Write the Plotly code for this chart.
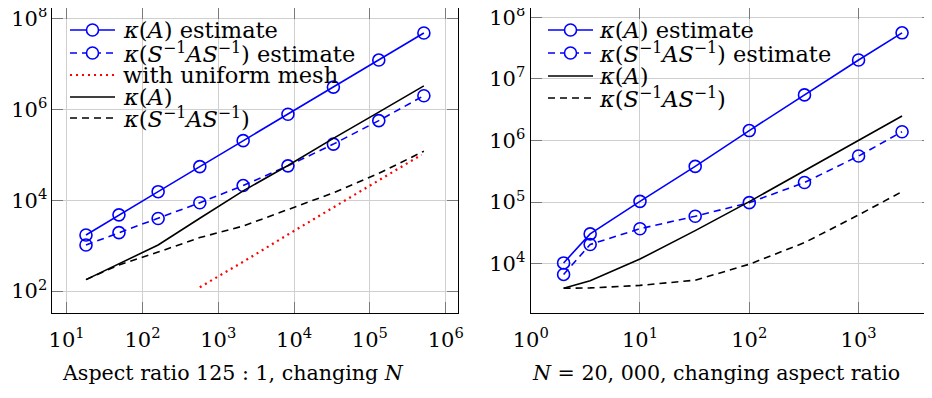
import plotly.graph_objects as go

# ---------------- data ----------------
# Left panel: aspect ratio 125:1, changing N
N_left = [18, 49, 161, 571, 2130, 8300, 33000, 131000, 515000]
kA_est_left = [1710, 4750, 15400, 55000, 205000, 780000, 3.1e6, 1.22e7, 4.8e7]
kS_est_left = [1030, 1930, 3950, 8800, 21000, 57000, 172000, 565000, 2.0e6]
kA_left = [178, 395, 1030, 4000, 16000, 58000, 230000, 870000, 3.3e6]
kS_left = [178, 375, 720, 1500, 2700, 6100, 14500, 39000, 120000]
N_uniform = [571, 2130, 8300, 33000, 131000, 480000]
k_uniform = [121, 440, 1750, 7000, 27500, 100000]

# Right panel: N = 20,000, changing aspect ratio
AR = [2, 3.5, 10, 32, 100, 320, 1000, 2500]
kA_est_right = [10300, 30500, 103000, 380000, 1.45e6, 5.5e6, 2.03e7, 5.6e7]
kS_est_right = [6700, 20500, 37000, 59000, 98000, 208000, 560000, 1.39e6]
kA_right = [4000, 5300, 11900, 34500, 102000, 325000, 1.0e6, 2.5e6]
kS_right = [4000, 4050, 4450, 5400, 9800, 22000, 62000, 148000]

xticks_left = [1e1, 1e2, 1e3, 1e4, 1e5, 1e6]
xticktext_left = ["10<sup>1</sup>", "10<sup>2</sup>", "10<sup>3</sup>",
                  "10<sup>4</sup>", "10<sup>5</sup>", "10<sup>6</sup>"]
yticks_left = [1e2, 1e4, 1e6, 1e8]
yticktext_left = ["10<sup>2</sup>", "10<sup>4</sup>", "10<sup>6</sup>", "10<sup>8</sup>"]
xticks_right = [1e0, 1e1, 1e2, 1e3]
xticktext_right = ["10<sup>0</sup>", "10<sup>1</sup>", "10<sup>2</sup>", "10<sup>3</sup>"]
yticks_right = [1e4, 1e5, 1e6, 1e7, 1e8]
yticktext_right = ["10<sup>4</sup>", "10<sup>5</sup>", "10<sup>6</sup>",
                   "10<sup>7</sup>", "10<sup>8</sup>"]

label_est_A = "<i>κ</i>(<i>A</i>) estimate"
label_est_S = "<i>κ</i>(<i>S</i><sup>−1</sup><i>AS</i><sup>−1</sup>) estimate"
label_uniform = "with uniform mesh"
label_A = "<i>κ</i>(<i>A</i>)"
label_S = "<i>κ</i>(<i>S</i><sup>−1</sup><i>AS</i><sup>−1</sup>)"
title_left = "Aspect ratio 125 : 1, changing <i>N</i>"
title_right = "<i>N</i> = 20, 000, changing aspect ratio"

# ---------------- styling ----------------
W, H = 932, 398
OFF = 8            # the page body adds an 8px margin around the figure
FONT = "DejaVu Serif"
FS_TICK = 21
FS_LEG = 22.5
FS_TITLE = 20.6
BLUE = "#0000ff"
RED = "#ff0000"
DASH = "7px,5px"
DOT = "2px,4px"

# axis boxes in page pixels (left, top, right, bottom) and log ranges
BOX_L = (51.7, 8.0, 458.3, 312.7)
BOX_R = (530.7, 8.0, 933.0, 312.7)
XR_L, YR_L = (0.803, 6.166), (1.522, 8.233)
XR_R, YR_R = (0.0, 3.681), (3.205, 8.151)


def px(x):
    return (x - OFF) / W


def py(y):
    return 1 - (y - OFF) / H


def clip01(v):
    return max(0.0, min(1.0, v))


fig = go.Figure()

circle = dict(symbol="circle-open", size=12, line=dict(width=1.6, color=BLUE))

# left panel traces
fig.add_trace(go.Scatter(x=N_left, y=kA_est_left, mode="lines+markers",
                         line=dict(color=BLUE, width=1.6), marker=circle,
                         xaxis="x", yaxis="y", showlegend=False))
fig.add_trace(go.Scatter(x=N_left, y=kS_est_left, mode="lines+markers",
                         line=dict(color=BLUE, width=1.6, dash=DASH), marker=circle,
                         xaxis="x", yaxis="y", showlegend=False))
fig.add_trace(go.Scatter(x=N_uniform, y=k_uniform, mode="lines",
                         line=dict(color=RED, width=2.2, dash=DOT),
                         xaxis="x", yaxis="y", showlegend=False))
fig.add_trace(go.Scatter(x=N_left, y=kA_left, mode="lines",
                         line=dict(color="black", width=1.6),
                         xaxis="x", yaxis="y", showlegend=False))
fig.add_trace(go.Scatter(x=N_left, y=kS_left, mode="lines",
                         line=dict(color="black", width=1.6, dash=DASH),
                         xaxis="x", yaxis="y", showlegend=False))

# right panel traces
fig.add_trace(go.Scatter(x=AR, y=kA_est_right, mode="lines+markers",
                         line=dict(color=BLUE, width=1.6), marker=circle,
                         xaxis="x2", yaxis="y2", showlegend=False))
fig.add_trace(go.Scatter(x=AR, y=kS_est_right, mode="lines+markers",
                         line=dict(color=BLUE, width=1.6, dash=DASH), marker=circle,
                         xaxis="x2", yaxis="y2", showlegend=False))
fig.add_trace(go.Scatter(x=AR, y=kA_right, mode="lines",
                         line=dict(color="black", width=1.6),
                         xaxis="x2", yaxis="y2", showlegend=False))
fig.add_trace(go.Scatter(x=AR, y=kS_right, mode="lines",
                         line=dict(color="black", width=1.6, dash=DASH),
                         xaxis="x2", yaxis="y2", showlegend=False))

axis_common = dict(
    type="log", showgrid=True, gridcolor="#cfcfcf", gridwidth=1,
    ticks="inside", ticklen=11, tickwidth=1, tickcolor="#7a7a7a",
    showline=True, linecolor="black", linewidth=1.3, mirror="allticks",
    zeroline=False, tickmode="array", automargin=False,
    ticklabeloverflow="allow",
    tickfont=dict(family=FONT, size=FS_TICK, color="black"),
)

fig.update_layout(
    width=W, height=H,
    margin=dict(l=0, r=0, t=0, b=0, autoexpand=False),
    paper_bgcolor="white", plot_bgcolor="white",
    showlegend=False,
    xaxis=dict(axis_common, domain=[clip01(px(BOX_L[0])), clip01(px(BOX_L[2]))],
               range=list(XR_L),
               tickvals=xticks_left, ticktext=xticktext_left, anchor="y",
               ticklabelstandoff=8),
    yaxis=dict(axis_common, domain=[clip01(py(BOX_L[3])), clip01(py(BOX_L[1]))],
               range=list(YR_L),
               tickvals=yticks_left, ticktext=yticktext_left, anchor="x",
               ticklabelstandoff=-1),
    xaxis2=dict(axis_common, domain=[clip01(px(BOX_R[0])), clip01(px(BOX_R[2]))],
                range=list(XR_R),
                tickvals=xticks_right, ticktext=xticktext_right, anchor="y2",
                ticklabelstandoff=8),
    yaxis2=dict(axis_common, domain=[clip01(py(BOX_R[3])), clip01(py(BOX_R[1]))],
                range=list(YR_R),
                tickvals=yticks_right, ticktext=yticktext_right, anchor="x2",
                ticklabelstandoff=0),
)

# ---------------- hand-drawn legends (boxes, samples, labels) ----------------
shapes = []
annotations = []


def legend(axes, axbox, xr, yr, box, rows, x_line0, x_line1, x_text, entries):
    xa, ya = axes
    L, T, R, B = axbox

    def lx(x):  # page pixel -> log10 axis coordinate
        return xr[0] + (x - L) / (R - L) * (xr[1] - xr[0])

    def ly(y):
        return yr[0] + (B - y) / (B - T) * (yr[1] - yr[0])

    bx0, by0, bx1, by1 = box
    # white legend background: hides grid lines, drawn under the data
    shapes.append(dict(type="rect", xref=xa, yref=ya,
                       x0=lx(bx0), x1=lx(bx1), y0=ly(by1), y1=ly(by0),
                       fillcolor="white", line=dict(width=0), layer="between"))
    for yrow, (label, color, dash, width, marker) in zip(rows, entries):
        shapes.append(dict(type="line", xref="paper", yref="paper",
                           x0=px(x_line0), x1=px(x_line1), y0=py(yrow), y1=py(yrow),
                           line=dict(color=color, width=width, dash=dash),
                           layer="above"))
        if marker:
            xc = (x_line0 + x_line1) / 2
            shapes.append(dict(type="circle", xref="paper", yref="paper",
                               xsizemode="pixel", ysizemode="pixel",
                               xanchor=px(xc), yanchor=py(yrow),
                               x0=-6, x1=6, y0=-6, y1=6,
                               fillcolor="white",
                               line=dict(color=BLUE, width=1.6), layer="above"))
        annotations.append(dict(text=label, xref="paper", yref="paper",
                                x=px(x_text), y=py(yrow), xanchor="left",
                                yanchor="middle", showarrow=False,
                                font=dict(family=FONT, size=FS_LEG, color="black")))


legend(("x", "y"), BOX_L, XR_L, YR_L, (64, 17, 362, 130), [30, 53, 75, 97, 118],
       70, 115, 121, [
           (label_est_A, BLUE, "solid", 1.6, True),
           (label_est_S, BLUE, DASH, 1.6, True),
           (label_uniform, RED, DOT, 2.2, False),
           (label_A, "black", "solid", 1.6, False),
           (label_S, "black", DASH, 1.6, False),
       ])

legend(("x2", "y2"), BOX_R, XR_R, YR_R, (542, 17, 842, 110), [30, 53, 76, 98],
       548, 593, 597, [
           (label_est_A, BLUE, "solid", 1.6, True),
           (label_est_S, BLUE, DASH, 1.6, True),
           (label_A, "black", "solid", 1.6, False),
           (label_S, "black", DASH, 1.6, False),
       ])

annotations.append(dict(text=title_left, xref="paper", yref="paper",
                        x=px(232.5), y=py(373), xanchor="center", yanchor="middle",
                        showarrow=False,
                        font=dict(family=FONT, size=FS_TITLE, color="black")))
annotations.append(dict(text=title_right, xref="paper", yref="paper",
                        x=px(715.5), y=py(373), xanchor="center", yanchor="middle",
                        showarrow=False,
                        font=dict(family=FONT, size=FS_TITLE, color="black")))

fig.update_layout(shapes=shapes, annotations=annotations)

fig.write_html("out.html")
